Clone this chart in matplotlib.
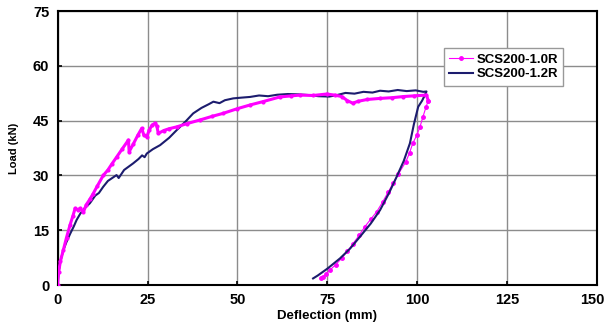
import matplotlib
matplotlib.use("Agg")
import matplotlib.pyplot as plt
import matplotlib.transforms as mtransforms
from matplotlib.lines import Line2D

# SCS200-1.0R, loading branch (mm, kN)
load10_x = [0, 0.3, 0.8, 1.6, 2.5, 3.5, 4.3, 4.9, 5.6, 6.3, 7.2, 8, 9, 9.9, 11, 12.7, 14, 15,
            16.4, 18, 19.7, 19.9, 21, 22.3, 23.4, 24, 24.8, 25.5, 26.3, 27.1, 27.6, 28, 29.5,
            31, 33.1, 36, 39.6, 43, 46, 50, 53.5, 57, 61.8, 65, 67.4, 71, 74.8, 77, 79, 80.5,
            82, 83.5, 86, 89.6, 93, 96, 99, 102.5, 103]
load10_y = [0, 3.5, 6.5, 9.5, 13, 16.5, 19, 21, 20.6, 21, 20, 22, 23.5, 25, 27, 30, 31.5, 33,
            35, 37.3, 39.7, 36.5, 38.5, 41, 42.9, 41, 40.6, 42.5, 43.8, 44.3, 43.5, 41.5, 42.3,
            42.8, 43.3, 44.2, 45.2, 46.2, 47, 48.3, 49.3, 50.2, 51.5, 51.8, 52, 51.9, 52.3, 52.0,
            51.6, 50.5, 49.8, 50.3, 50.8, 51.1, 51.3, 51.6, 51.8, 52, 50.5]
# SCS200-1.0R, unloading branch
unload10_x = [103, 102.4, 101.5, 100.7, 99.8, 98.7, 97.8, 96.8, 94.7, 93.3, 91.9, 90.3, 88.7,
              87, 85.4, 83.8, 82, 80.5, 78.9, 77.3, 75.7, 74.7, 73.8, 73.3]
unload10_y = [50.5, 48.8, 46, 43.3, 41, 38.8, 36.2, 33.8, 30.4, 28, 25.5, 22.7, 20.1, 18, 16,
              13.6, 11.2, 9.2, 7.3, 5.6, 4.1, 3.1, 2.3, 2.0]

# SCS200-1.2R
s12_x = [0, 0.3, 0.8, 1.6, 2.5, 3.5, 4.5, 5.3, 6.3, 7.5, 9, 10.5, 11.5, 12.7, 14, 15.5, 16.4,
         17, 18.5, 21, 22.5, 23.5, 24.2, 24.8, 26.5, 28.5, 31, 33.1, 35.5, 37.7, 40, 42, 43.3,
         45, 46.5, 48.8, 51, 53.5, 56, 58.5, 61, 64, 67, 70, 72.5, 75.5, 77.6, 80, 82.5, 85,
         87.5, 89.6, 92, 94.5, 97, 99.5, 101.6, 102.5, 102.3, 101.3, 100.2, 99, 97.9, 96.2,
         94.2, 92, 89.6, 87, 84, 81.3, 78.5, 75, 72.3, 71]
s12_y = [0, 3.5, 6.5, 9.5, 11.8, 14, 16, 17.8, 19.5, 21, 22.4, 24.5, 25.2, 26.9, 28.5, 29.5,
         30.1, 29.3, 31.5, 33.3, 34.5, 35.5, 35, 36, 37.2, 38.3, 40.3, 42.4, 44.7, 47, 48.5,
         49.5, 50.2, 49.8, 50.6, 51.1, 51.3, 51.5, 51.9, 51.7, 52.1, 52.3, 52.2, 52.0, 51.7,
         51.6, 52, 52.6, 52.4, 52.9, 52.7, 53.2, 53.0, 53.4, 53.1, 53.3, 52.9, 53.0, 52.5,
         50.5, 48.8, 44, 38.8, 34, 29.6, 25, 20.5, 16.8, 13.2, 10, 7.3, 4.5, 2.6, 1.8]

x_ticks = [0, 25, 50, 75, 100, 125, 150]
y_ticks = [0, 15, 30, 45, 60, 75]

plt.rcParams['font.family'] = ['Liberation Sans', 'DejaVu Sans']
plt.rcParams['font.weight'] = 'bold'

fig = plt.figure(figsize=(6.06, 3.34), dpi=100)
ax = fig.add_axes([0.0949, 0.1467, 0.891, 0.820])

pink = '#ff00ff'
navy = '#1c1c6e'

ax.plot(load10_x, load10_y, color=pink, lw=2.2, marker='o', ms=2, zorder=4)
ax.plot(unload10_x, unload10_y, color=pink, lw=0.8, marker='o', ms=2.5, zorder=3)
ax.plot(s12_x, s12_y, color=navy, lw=1.5, zorder=3.5)

ax.set_xlim(0, 150)
ax.set_ylim(0, 75)
ax.set_xticks(x_ticks)
ax.set_yticks(y_ticks)
ax.grid(True, color='#8c8c8c', lw=1.0)
ax.set_axisbelow(True)
ax.tick_params(direction='in', length=3, width=1.2, labelsize=10.5, pad=6)
for lab in ax.get_xticklabels() + ax.get_yticklabels():
    lab.set_fontweight('bold')
# keep the last x label inside the picture
last = ax.get_xticklabels()[-1]
last.set_transform(last.get_transform() + mtransforms.ScaledTranslation(-5 / 100, 0, fig.dpi_scale_trans))
for sp in ax.spines.values():
    sp.set_linewidth(1.5)

ax.set_xlabel("Deflection (mm)", fontsize=9.5, fontweight='bold', labelpad=2)
ax.set_ylabel("Load (kN)", fontsize=8, fontweight='bold', labelpad=10)

handles = [
    Line2D([], [], color=pink, lw=0.8, marker='o', ms=2.5),
    Line2D([], [], color=navy, lw=1.5),
]
leg = ax.legend(handles, ["SCS200-1.0R", "SCS200-1.2R"], loc='upper left',
                bbox_to_anchor=(0.715, 0.865), fontsize=9.5, frameon=True, fancybox=False,
                framealpha=1, edgecolor='#999999', handlelength=1.8, handletextpad=0.3,
                borderpad=0.4, labelspacing=0.2, borderaxespad=0)
leg.get_frame().set_linewidth(1.0)

fig.savefig("out.png", dpi=100)
